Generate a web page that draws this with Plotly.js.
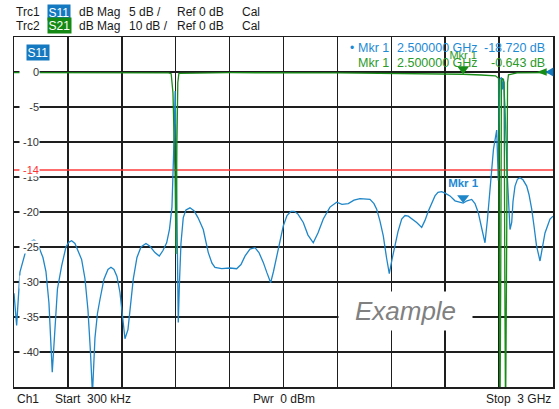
<!DOCTYPE html>
<html>
<head>
<meta charset="utf-8">
<script src="https://cdn.plot.ly/plotly-3.0.1.min.js"></script>
<style>html,body{margin:0;padding:0;background:#fff;}#chart{width:559px;height:409px;}</style>
</head>
<body>
<div id="chart"></div>
<script>
// ---- data (GHz / dB) ----
const freqS11 = [0.0003,0.0150,0.0334,0.0707,0.0891,0.1113,0.1280,0.1447,0.1614,0.1781,0.1948,0.2132,0.2282,0.2421,0.2655,0.2894,0.3061,0.3212,0.3395,0.3562,0.3768,0.3952,0.4119,0.4258,0.4369,0.4508,0.4647,0.4787,0.5009,0.5232,0.5399,0.5566,0.5733,0.5900,0.6067,0.6178,0.6345,0.6484,0.6640,0.6846,0.7069,0.7347,0.7570,0.7848,0.8087,0.8293,0.8499,0.8655,0.8794,0.8905,0.8972,0.9034,0.9089,0.9145,0.9212,0.9295,0.9423,0.9573,0.9796,1.0019,1.0241,1.0536,1.0815,1.1020,1.1187,1.1560,1.2022,1.2395,1.2635,1.2857,1.3136,1.3414,1.3636,1.3876,1.4082,1.4288,1.4444,1.4622,1.4805,1.4989,1.5195,1.5418,1.5601,1.5807,1.6102,1.6364,1.6659,1.6920,1.7215,1.7588,1.7961,1.8256,1.8607,1.8924,1.9258,1.9592,1.9815,2.0037,2.0187,2.0371,2.0555,2.0733,2.0889,2.1039,2.1206,2.1373,2.1579,2.1763,2.1946,2.2152,2.2414,2.2692,2.2876,2.3059,2.3238,2.3432,2.3599,2.3805,2.3989,2.4267,2.4546,2.5000,2.5214,2.5475,2.5659,2.5842,2.6048,2.6215,2.6354,2.6494,2.6688,2.6867,2.6956,2.7050,2.7134,2.7189,2.7245,2.7329,2.7440,2.7607,2.7702,2.7774,2.7885,2.8024,2.8163,2.8330,2.8536,2.8664,2.8815,2.8943,2.9082,2.9277,2.9416,2.9555,2.9833,3.0000];
const s11Db = [-31.6,-36.2,-28.6,-25.1,-24.3,-24.0,-24.3,-25.3,-26.5,-28.5,-33.0,-42.9,-36.0,-31.0,-27.7,-25.0,-24.3,-24.1,-24.5,-25.5,-26.8,-29.5,-34.0,-40.0,-46.0,-38.0,-34.5,-32.5,-29.6,-28.2,-27.9,-28.2,-29.2,-31.5,-35.0,-38.1,-36.8,-33.0,-29.6,-26.5,-25.0,-24.5,-24.9,-25.8,-26.3,-25.5,-24.4,-22.5,-19.3,-10.0,-2.7,-12.0,-25.0,-35.8,-30.0,-24.5,-20.8,-19.7,-19.4,-19.8,-20.8,-22.5,-25.8,-27.3,-27.9,-28.1,-28.0,-28.1,-27.5,-26.3,-25.3,-25.1,-25.8,-27.2,-28.7,-30.1,-28.5,-26.3,-24.0,-22.0,-20.5,-19.9,-19.9,-20.3,-21.5,-23.3,-24.4,-23.0,-21.0,-19.3,-18.6,-18.9,-18.8,-18.3,-18.1,-18.1,-18.2,-18.8,-19.6,-21.3,-23.4,-26.5,-28.8,-26.8,-24.9,-22.8,-21.0,-20.5,-20.6,-21.0,-21.5,-22.2,-21.2,-19.9,-18.7,-17.7,-17.2,-17.1,-17.3,-17.7,-18.4,-18.72,-18.4,-18.2,-18.8,-20.1,-22.5,-24.4,-21.0,-16.3,-11.0,-8.3,-15.5,-1.0,-0.8,-2.5,-1.0,-5.0,-14.0,-22.5,-21.5,-18.5,-16.3,-15.3,-15.1,-15.4,-16.3,-17.5,-19.6,-22.0,-24.8,-27.0,-25.0,-23.0,-21.0,-20.6];

const freqS21 = [0.0003,0.5,0.86,0.875,0.885,0.897,0.902,0.907,0.912,0.918,1.2,1.8,2.2,2.45,2.5,2.6,2.68,2.697,2.702,2.705,2.709,2.713,2.72,2.728,2.732,2.736,2.741,2.747,2.752,2.8,3.0];
const s21Db = [-0.15,-0.2,-0.25,-0.5,-6,-30,-52,-20,-3,-0.4,-0.2,-0.25,-0.4,-0.55,-0.643,-0.85,-1.1,-1.8,-60,-100,-60,-2.5,-1.8,-3,-60,-100,-60,-3,-0.8,-0.25,-0.2];

const startGHz = 0.0003, stopGHz = 3.0;
const tickVals = [0,-5,-10,-15,-20,-25,-30,-35,-40];
const tickLabels = ['0','-5','-10','-15','-20','-25','-30','-35','-40'];
const limitDb = -14;
const limitLabel = '-14';
const markerFreq = [2.5];
const markerS11 = [-18.72];
const markerS21 = [-0.643];
const headerRow1 = ['Trc1','S11','dB Mag','5 dB /','Ref 0 dB','Cal'];
const headerRow2 = ['Trc2','S21','dB Mag','10 dB /','Ref 0 dB','Cal'];
const footer = ['Ch1','Start\u00a0 300 kHz','Pwr\u00a0 0 dBm','Stop\u00a0 3 GHz'];

// ---- style ----
const FONT = 'Liberation Sans, Arial, sans-serif';
const BLUE = '#1f86c8', BLUEBOX = '#1479c0', BLUETXT = '#1e8ad4';
const GREEN = '#178c17', GREENBOX = '#148a14', GREENTXT = '#2a9a2a';
const GRID = '#1e1e1e';
const L = 14, R = 553, T = 37, B = 387;
const px = x => (x - L) / (R - L);
const py = y => (B - y) / (B - T);

const traces = [
  {x:[startGHz, stopGHz], y:[limitDb, limitDb], mode:'lines', line:{color:'#ff3b3b', width:1.3}, hoverinfo:'skip'},
  {x:freqS21, y:s21Db, yaxis:'y2', mode:'lines', line:{color:GREEN, width:1.3}, hoverinfo:'skip'},
  {x:freqS11, y:s11Db, mode:'lines', line:{color:BLUE, width:1.3}, hoverinfo:'skip'},
  {x:markerFreq, y:markerS21, yaxis:'y4', mode:'markers+text', marker:{symbol:'triangle-down', size:10.5, color:GREEN},
   text:['Mkr 1'], textposition:'top center', textfont:{family:FONT, size:11, color:GREENTXT}, cliponaxis:false, hoverinfo:'skip'},
  {x:markerFreq, y:markerS11, yaxis:'y3', mode:'markers+text', marker:{symbol:'triangle-down', size:10.5, color:BLUE},
   text:['<b>Mkr 1</b>'], textposition:'top center', textfont:{family:FONT, size:11.5, color:BLUETXT}, cliponaxis:false, hoverinfo:'skip'}
];

const ann = [];
// Example watermark
ann.push({xref:'paper', yref:'paper', x:px(405), y:py(310.5), xanchor:'center', yanchor:'middle',
  text:'<i>Example</i>', showarrow:false, bgcolor:'#ffffff', width:131, height:36,
  font:{family:FONT, size:26, color:'#808080'}});
// S11 tag inside plot
ann.push({xref:'paper', yref:'paper', x:px(26), y:py(52.5), xanchor:'left', yanchor:'middle',
  text:'S11', showarrow:false, bgcolor:BLUEBOX, borderpad:0.5, font:{family:FONT, size:12, color:'#ffffff'}});
// y tick labels
tickVals.forEach((v, i) => {
  ann.push({xref:'paper', yref:'y', x:px(40), y:v, xanchor:'right', yanchor:'middle', text:tickLabels[i],
    showarrow:false, bgcolor:'#ffffff', width:19, align:'right', borderpad:0,
    font:{family:FONT, size:11, color:'#333333'}});
});
ann.push({xref:'paper', yref:'y', x:px(40), y:limitDb, xanchor:'right', yanchor:'middle', text:limitLabel,
  showarrow:false, bgcolor:'#ffffff', width:19, align:'right', borderpad:0,
  font:{family:FONT, size:11, color:'#ff3030'}});
// header
const colX = [15, 46.7, 77.7, 128.3, 175.7, 240.7];
[[headerRow1, 12.3, BLUEBOX], [headerRow2, 25.7, GREENBOX]].forEach(([row, yy, boxc]) => {
  row.forEach((t, i) => {
    const isBox = i === 1;
    ann.push({xref:'paper', yref:'paper', x:px(colX[i]), y:py(yy), xanchor:'left', yanchor:'middle', text:t,
      showarrow:false, bgcolor: isBox ? boxc : 'rgba(0,0,0,0)', borderpad: isBox ? 0.5 : 0,
      font:{family:FONT, size:12, color: isBox ? '#ffffff' : '#1a1a1a'}});
  });
});
// footer
const footX = [15, 52.7, 251];
footer.forEach((t, i) => {
  const right = i === 3;
  ann.push({xref:'paper', yref:'paper', x: right ? px(553) : px(footX[i]), y:py(399), xanchor: right ? 'right' : 'left',
    yanchor:'middle', text:t, showarrow:false, font:{family:FONT, size:12, color:'#1a1a1a'}});
});
// marker readout
const rows = [['\u2022', markerS11[0], 48, BLUETXT], ['', markerS21[0], 63, GREENTXT]];
rows.forEach(([dot, val, yy, col]) => {
  if (dot) ann.push({xref:'paper', yref:'paper', x:px(348), y:py(yy), xanchor:'left', yanchor:'middle', text:dot,
    showarrow:false, font:{family:FONT, size:12, color:col}});
  ann.push({xref:'paper', yref:'paper', x:px(356), y:py(yy), xanchor:'left', yanchor:'middle', text:'Mkr 1',
    showarrow:false, font:{family:FONT, size:12.5, color:col}});
  ann.push({xref:'paper', yref:'paper', x:px(395), y:py(yy), xanchor:'left', yanchor:'middle',
    text: markerFreq[0].toFixed(6) + ' GHz', showarrow:false, font:{family:FONT, size:12.5, color:col}});
  ann.push({xref:'paper', yref:'paper', x:px(547), y:py(yy), xanchor:'right', yanchor:'middle',
    text: val.toFixed(3) + ' dB', showarrow:false, font:{family:FONT, size:12.5, color:col}});
});

const tri = (xt, xb, yc, h) => `M${px(xt)},${py(yc)} L${px(xb)},${py(yc - h)} L${px(xb)},${py(yc + h)} Z`;
const shapes = [
  {type:'path', xref:'paper', yref:'paper', path:tri(537, 546.7, 72, 3.8), fillcolor:GREEN, line:{width:0}},
  {type:'path', xref:'paper', yref:'paper', path:tri(545.5, 553.3, 72, 4.6), fillcolor:BLUEBOX, line:{width:0}}
];

const axisCommon = {showticklabels:false, ticks:'', showgrid:true, gridcolor:GRID, gridwidth:1.5, zeroline:false,
  showline:true, mirror:true, linecolor:GRID, linewidth:1.5, fixedrange:true};

const layout = {
  width:559, height:409,
  margin:{l:L, r:559 - R, t:T, b:409 - B, pad:0},
  paper_bgcolor:'#ffffff', plot_bgcolor:'#ffffff',
  showlegend:false, hovermode:false,
  font:{family:FONT},
  xaxis:Object.assign({}, axisCommon, {range:[startGHz, stopGHz], tick0:startGHz, dtick:(stopGHz - startGHz) / 10}),
  yaxis:Object.assign({}, axisCommon, {range:[-45, 5], tick0:0, dtick:5}),
  yaxis2:{overlaying:'y', range:[-90, 10], visible:false, fixedrange:true},
  yaxis3:{overlaying:'y', range:[-45.75, 4.25], visible:false, fixedrange:true},
  yaxis4:{overlaying:'y', range:[-91.5, 8.5], visible:false, fixedrange:true},
  annotations:ann,
  shapes:shapes
};

Plotly.newPlot('chart', traces, layout, {displayModeBar:false, staticPlot:true});
</script>
</body>
</html>
